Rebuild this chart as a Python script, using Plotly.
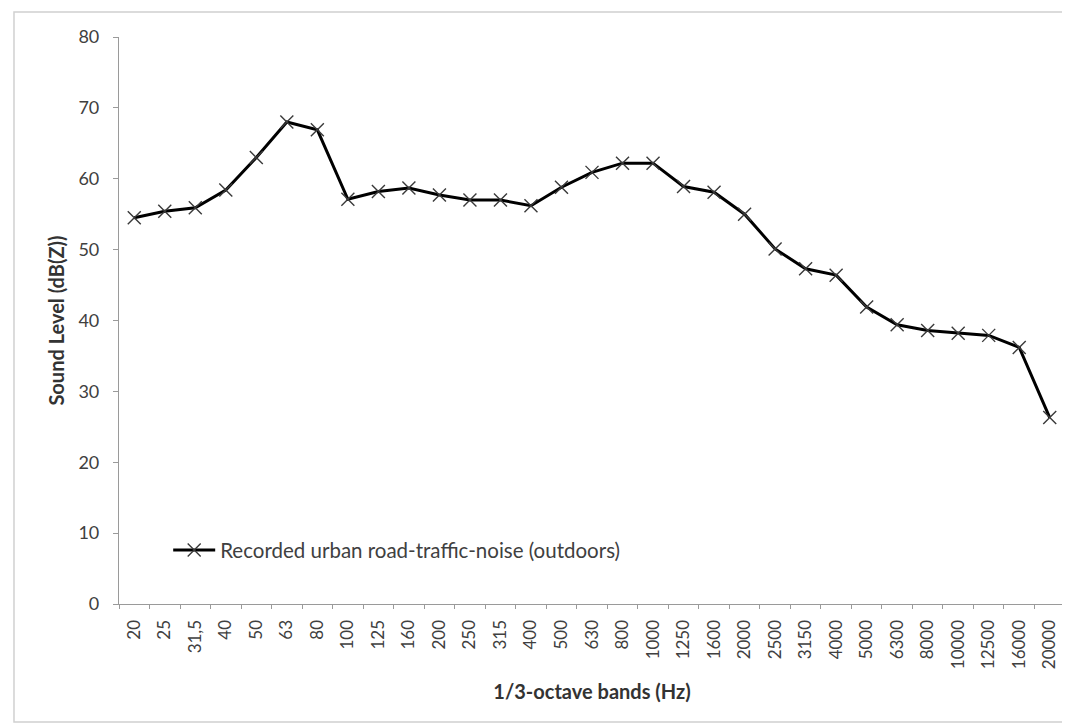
import plotly.graph_objects as go

bands = ["20", "25", "31,5", "40", "50", "63", "80", "100", "125", "160", "200", "250",
         "315", "400", "500", "630", "800", "1000", "1250", "1600", "2000", "2500",
         "3150", "4000", "5000", "6300", "8000", "10000", "12500", "16000", "20000"]
levels = [54.5, 55.4, 55.9, 58.4, 63.0, 68.0, 66.9, 57.1, 58.2, 58.7, 57.7, 57.0,
          57.0, 56.2, 58.8, 60.9, 62.2, 62.2, 58.9, 58.1, 55.0, 50.1,
          47.3, 46.4, 41.9, 39.4, 38.6, 38.2, 37.9, 36.2, 26.3]
series_name = "Recorded urban road-traffic-noise (outdoors)"
y_ticks = [0, 10, 20, 30, 40, 50, 60, 70, 80]

FONT = "Lato, 'Open Sans', sans-serif"

fig = go.Figure()
fig.add_trace(go.Scatter(
    x=bands, y=levels, mode="lines+markers", name=series_name,
    line=dict(color="#000000", width=3),
    marker=dict(symbol="x-thin-open", size=13, color="#3a3a3a",
                line=dict(color="#3a3a3a", width=1.4)),
))

fig.update_layout(
    width=1062, height=716,
    margin=dict(l=111, r=5, t=29, b=120),
    paper_bgcolor="white", plot_bgcolor="white",
    font=dict(family=FONT, color="#404040"),
    showlegend=True,
    legend=dict(x=0.052, y=0.095, xanchor="left", yanchor="middle",
                itemwidth=42,
                bgcolor="rgba(0,0,0,0)", font=dict(size=20.5, color="#404040")),
    xaxis=dict(
        type="category", range=[-0.5, len(bands) - 0.5],
        showgrid=False, showline=True, linecolor="#9a9a9a", linewidth=1.2,
        ticks="outside", tickson="boundaries", ticklen=4, tickcolor="#9a9a9a",
        tickangle=-90, tickfont=dict(size=17, color="#404040"),
        ticklabelstandoff=8,
        title=dict(text="<b>1/3-octave bands (Hz)</b>", font=dict(size=20, color="#333333"),
                   standoff=16),
    ),
    yaxis=dict(
        range=[0, 80], tickvals=y_ticks, showgrid=False, zeroline=False,
        showline=True, linecolor="#9a9a9a", linewidth=1.2,
        ticks="outside", ticklen=5, tickcolor="#9a9a9a",
        tickfont=dict(size=18, color="#404040"),
        ticklabelstandoff=10,
        title=dict(text="<b>Sound Level (dB(Z))</b>", font=dict(size=20, color="#333333"),
                   standoff=8),
    ),
    shapes=[dict(type="rect", xref="paper", yref="paper",
                 x0=-0.111, x1=1.003, y0=-0.208, y1=1.044,
                 line=dict(color="#d0d0d0", width=1.5), layer="below")],
)

fig.write_html("out.html")
